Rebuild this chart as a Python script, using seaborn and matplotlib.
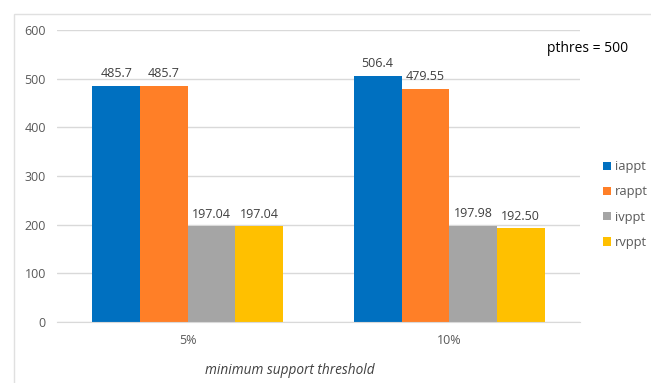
import matplotlib
matplotlib.use("Agg")
import matplotlib.pyplot as plt
import seaborn as sns
import pandas as pd
from matplotlib.patches import Rectangle

categories = ["5%", "10%"]
series = ["iappt", "rappt", "ivppt", "rvppt"]
iappt = [485.7, 506.4]
rappt = [485.7, 479.55]
ivppt = [197.04, 197.98]
rvppt = [197.04, 192.50]
labels = {"iappt": ["485.7", "506.4"], "rappt": ["485.7", "479.55"],
          "ivppt": ["197.04", "197.98"], "rvppt": ["197.04", "192.50"]}
colors = ["#0070C0", "#FF7F27", "#A5A5A5", "#FFC000"]

rows = []
for s, vals in zip(series, [iappt, rappt, ivppt, rvppt]):
    for c, v in zip(categories, vals):
        rows.append({"cat": c, "series": s, "value": v})
df = pd.DataFrame(rows)

sns.set_style("white")
plt.rcParams["font.family"] = ["Open Sans", "DejaVu Sans"]

fig = plt.figure(figsize=(6.51, 3.83), dpi=100)
ax = fig.add_axes([57/651, 1-322/383, (580-57)/651, (322-30)/383])

sns.barplot(data=df, x="cat", y="value", hue="series", order=categories,
            hue_order=series, palette=colors, width=0.73, ax=ax,
            saturation=1, legend=True, edgecolor="none", linewidth=0)

ax.set_ylim(0, 600)
ax.set_xlim(-0.5, 1.5)
ax.set_yticks(range(0, 601, 100))
ax.yaxis.grid(True, color="#D9D9D9", linewidth=1)
ax.set_axisbelow(True)
for sp in ["top", "right", "left"]:
    ax.spines[sp].set_visible(False)
ax.spines["bottom"].set_color("#D9D9D9")
ax.tick_params(axis="both", length=0, labelsize=9, colors="#595959", pad=8)
ax.tick_params(axis="x", pad=9)
ax.set_xlabel("")
ax.set_ylabel("")

for cont, s in zip(ax.containers, series):
    ax.bar_label(cont, labels=labels[s], padding=4, fontsize=9, color="#404040")

leg = ax.legend(loc="upper left", bbox_to_anchor=(598/651, 1-155/383),
                bbox_transform=fig.transFigure, frameon=False, fontsize=9.3,
                handlelength=0.6, handleheight=0.6, handletextpad=0.3,
                labelspacing=0.95, borderaxespad=0)
for t in leg.get_texts():
    t.set_color("#595959")

fig.text(547/651, 1-49/383, "pthres = 500", fontsize=10, color="#000000",
         ha="left", va="center")
fig.text(290/651, 1-370/383, "minimum support threshold", fontsize=9.8,
         style="italic", color="#404040", ha="center", va="center")

fig.patches.append(Rectangle((14/651, -0.1), 1.2, 1-14/383+0.1,
                             transform=fig.transFigure, fill=False,
                             edgecolor="#E0E0E0", linewidth=1))

fig.savefig("out.png", dpi=100)
